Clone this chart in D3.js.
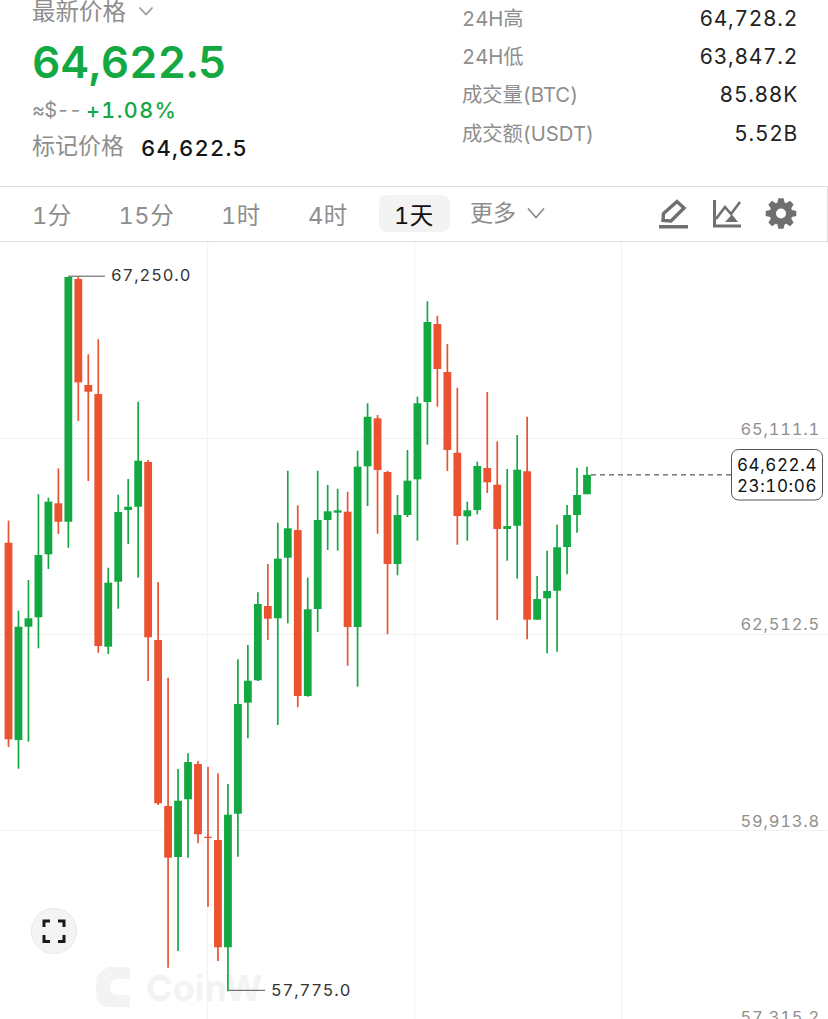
<!DOCTYPE html>
<html><head><meta charset="utf-8">
<script src="https://cdn.jsdelivr.net/npm/d3@7"></script>
<style>
html,body{margin:0;padding:0;background:#fff;overflow:hidden}
svg{display:block}
text{font-family:"Inter","Noto Sans CJK SC",sans-serif;font-feature-settings:"tnum" 1}
</style></head><body><svg id="c" width="828" height="1019"></svg>
<script>
const opens=[63723,61107,62609,62734,63569,64245,64001,67219,65814,65694,62344,63206,64156,64200,64793,62433,60232,59556,60321,60789,59825,59781,58359,60130,61602,61899,62884,62721,63524,63891,61690,62844,64024,64121,64134,62605,64736,65372,64660,63440,64090,64563,65588,66622,65986,64916,64073,64156,64713,64492,63905,63948,64670,62702,62986,63086,63666,64090,64365];
const closes=[61116,62609,62721,63560,64267,64001,67246,65849,65725,62353,63193,64130,64200,64810,62469,60268,59547,60302,60815,59857,59808,58359,60117,61584,61893,62910,62715,63511,63914,61690,62840,64024,64139,64152,62605,64731,65393,64687,63440,64090,64545,65571,66649,66026,64952,64077,64152,64740,64524,63905,63944,64691,62702,62976,63083,63662,64090,64355,64622.4];
const highs=[64015,62821,63228,64365,64320,64709,67250,67250,66221,66420,63391,64359,64567,65592,64819,63202,61933,60723,60931,60829,60753,60666,60524,62177,62367,63065,63440,63988,64677,64219,63259,64677,64488,64439,64399,64943,65571,65416,64677,64355,64952,65659,66923,66732,66357,65778,64267,64797,65721,65067,64700,65151,65393,63281,63617,63962,64223,64717,64731];
const lows=[61014,60727,61085,62323,63374,63838,63657,65336,64541,62265,62247,62848,63706,63259,61889,60245,58088,58310,59547,59737,58897,58177,57775,59560,61130,61889,62433,61306,62654,61541,61681,62539,63626,63617,62092,61814,64209,63842,62512,63291,64064,63749,65022,65526,64673,63696,63749,64099,64382,62698,63484,63246,62442,62698,62257,62278,63304,63856,64365];
const priceTicks=[65111.1,62512.5,59913.8,57315.2];
const priceGuide=[19.9,40.66,61.41];
const maxPrice=67250.0, minPrice=57775.0, lastPrice=64622.4;
const countdown="23:10:06";
const headStats=[["24H高","64,728.2"],["24H低","63,847.2"],["成交量(BTC)","85.88K"],["成交额(USDT)","5.52B"]];
const periods=[["1分",32],["15分",118.5],["1时",221],["4时",308]];

const GREEN="#14a843",RED="#ea5230",GREY="#8e8e8e";
const svg=d3.select("#c");
const x=d3.scaleLinear().domain([0,58]).range([8.5,587]);
const y=d3.scaleLinear().domain([65111.1,57315.2]).range([438,1026]);
const fmt=d3.format(",.1f");

function txt(s,px,py,size,fill,opt={}){
  const t=svg.append("text").attr("x",px).attr("y",py).attr("font-size",size).attr("fill",fill)
   .attr("dominant-baseline","central").text(s);
  if(opt.anchor)t.attr("text-anchor",opt.anchor);
  if(opt.weight)t.attr("font-weight",opt.weight);
  if(opt.ls!=null)t.attr("letter-spacing",opt.ls);
  return t;
}
function chevron(cx,cy,w,h,c){
  svg.append("path").attr("d",`M${cx-w/2},${cy-h/2}L${cx},${cy+h/2}L${cx+w/2},${cy-h/2}`)
   .attr("fill","none").attr("stroke",c).attr("stroke-width",1.7);
}

// header
txt("最新价格",32,11,23.5,GREY);
chevron(146,11,13,7,"#999");
txt("64,622.5",32,62,44,GREEN,{weight:600,ls:0});
txt("≈$--",32,110,20,GREY,{ls:-0.6});
txt("+1.08%",86,110,21.5,GREEN,{weight:500,ls:1.4});
txt("标记价格",32,146,23,GREY);
txt("64,622.5",141,148,22,"#151515",{weight:500,ls:1.2});
headStats.forEach((d,i)=>{
  const yy=18+i*38.4;
  txt(d[0],462,yy,20.3,GREY);
  txt(d[1],798,yy,21,"#222",{anchor:"end",ls:0.7});
});

// toolbar
svg.append("rect").attr("x",-1).attr("y",186.5).attr("width",828.5).attr("height",55).attr("fill","#fff").attr("stroke","#dedede");
periods.forEach(p=>txt(p[0],p[1],215,23.5,GREY,{ls:0.6}));
svg.append("rect").attr("x",379).attr("y",195).attr("width",71).attr("height",37).attr("rx",8).attr("fill","#f3f3f3");
txt("1天",394,215,23.5,"#111",{ls:0.6});
txt("更多",470,213,23,GREY);
chevron(536,213,16,9,"#8a8a8a");
const IC="#6f6f6f";
svg.append("rect").attr("x",659).attr("y",225).attr("width",29).attr("height",3.5).attr("fill",IC);
svg.append("path").attr("d","M663,220.5L663.5,213.5L677,201.5L684,208L671,221Z").attr("fill","none").attr("stroke",IC).attr("stroke-width",3.4);
svg.append("path").attr("d","M714.5,200V226H741").attr("fill","none").attr("stroke",IC).attr("stroke-width",3);
svg.append("path").attr("d","M716,219L725,207L731,214L740,202").attr("fill","none").attr("stroke",IC).attr("stroke-width",2.6);
svg.append("path").attr("d","M725,222L732,214.5L738,222Z").attr("fill",IC);
{
  const teeth=8,R1=15.5,R0=11.5,pts=[];
  for(let i=0;i<teeth;i++){
    const a=i/teeth*2*Math.PI-Math.PI/2,w=0.21;
    pts.push([a-w*1.5,R0],[a-w*0.8,R1],[a+w*0.8,R1],[a+w*1.5,R0]);
  }
  svg.append("path").attr("transform","translate(781,213.5)")
   .attr("d",d3.lineRadial().angle(d=>d[0]+Math.PI/2).radius(d=>d[1]).curve(d3.curveLinearClosed)(pts)).attr("fill",IC);
  svg.append("circle").attr("cx",781).attr("cy",213.5).attr("r",5).attr("fill","#fff");
}

// chart grid via axes
const plot=svg.append("g");
const yAxis=d3.axisRight(y).tickValues(priceTicks).tickSize(828).tickFormat(fmt);
const gy=plot.append("g").call(yAxis);
gy.select(".domain").remove();
gy.selectAll(".tick line").attr("stroke","#f1f1f1").attr("stroke-width",1.2);
gy.selectAll(".tick text").attr("x",820).attr("dy",null).attr("text-anchor","end")
  .attr("transform","translate(0,-10)").attr("dominant-baseline","central")
  .attr("font-size",16.5).attr("fill","#8f8f8f").attr("letter-spacing",0.8)
  .style("font-family",'"Inter",sans-serif');
const xAxis=d3.axisBottom(x).tickValues(priceGuide).tickSize(777).tickFormat("");
const gx=plot.append("g").attr("transform","translate(0,242)").call(xAxis);
gx.select(".domain").remove();
gx.selectAll(".tick line").attr("stroke","#f3f3f3").attr("stroke-width",1.2);

// watermark
const wm=plot.append("g").attr("fill","#f3f3f3");
wm.append("path").attr("d","M109,967H130V979H118Q110,979 110,987Q110,995 118,995H130V1007H110Q96,1007 96,993V981Q96,973 109,967Z");
wm.append("text").attr("x",146).attr("y",988).attr("dominant-baseline","central").attr("font-size",36).attr("font-weight",700).attr("fill","#f3f3f3").text("CoinW");

// candles
const idx=d3.range(opens.length);
const col=i=>closes[i]>=opens[i]?GREEN:RED;
const bw=7.8;
const cg=svg.append("g");
cg.selectAll("line.w").data(idx).join("line").attr("class","w")
  .attr("x1",i=>x(i)).attr("x2",i=>x(i)).attr("y1",i=>y(highs[i])).attr("y2",i=>y(lows[i]))
  .attr("stroke",col).attr("stroke-width",1.7);
cg.selectAll("rect.b").data(idx).join("rect").attr("class","b")
  .attr("x",i=>x(i)-bw/2).attr("width",bw)
  .attr("y",i=>y(Math.max(opens[i],closes[i])))
  .attr("height",i=>Math.max(1.2,Math.abs(y(opens[i])-y(closes[i]))))
  .attr("fill",col);

// extreme labels
const hi=highs.indexOf(maxPrice), lo=lows.indexOf(minPrice);
svg.append("path").attr("d",`M${x(hi)},${y(maxPrice)-0.5}H105`).attr("fill","none").attr("stroke","#555").attr("stroke-width",1);
txt(fmt(maxPrice),111,y(maxPrice)-1.5,16.5,"#333",{ls:0.9});
svg.append("path").attr("d",`M${x(lo)+0.3},${y(minPrice)-1}H265`).attr("fill","none").attr("stroke","#555").attr("stroke-width",1);
txt(fmt(minPrice),271,y(minPrice)-1.5,16.5,"#333",{ls:0.9});

// last price
svg.append("line").attr("x1",x(58)+4).attr("x2",731).attr("y1",y(lastPrice)).attr("y2",y(lastPrice))
  .attr("stroke","#333").attr("stroke-width",1).attr("stroke-dasharray","5 4");
svg.append("rect").attr("x",731.5).attr("y",449.5).attr("width",91).attr("height",50.5).attr("rx",7)
  .attr("fill","#fff").attr("stroke","#555").attr("stroke-width",1);
txt(fmt(lastPrice),777,465,17,"#111",{anchor:"middle",ls:0.6});
txt(countdown,777,486,17,"#111",{anchor:"middle",ls:0.6});

// fullscreen button
svg.append("circle").attr("cx",54).attr("cy",931).attr("r",22.5).attr("fill","#f4f4f4").attr("stroke","#e8e8e8");
svg.append("path").attr("d","M44,927V921H50M58,921H64V927M64,935V941.5H58M50,941.5H44V935")
  .attr("fill","none").attr("stroke","#1a1a1a").attr("stroke-width",3);
</script></body></html>
